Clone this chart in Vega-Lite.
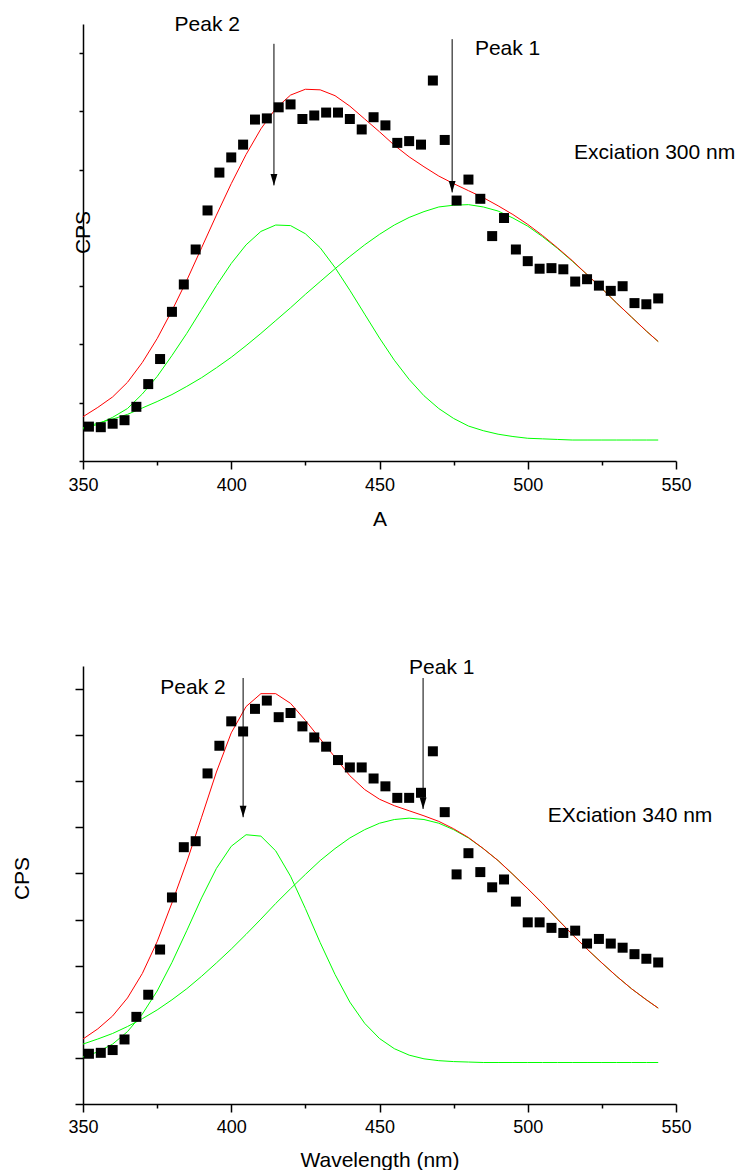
{
  "$schema": "https://vega.github.io/schema/vega-lite/v6.json",
  "background": "white",
  "padding": {"left": 11, "top": 13, "right": 0, "bottom": 0},
  "bounds": "flush",
  "spacing": 205,
  "config": {
    "view": {"stroke": null},
    "font": "Liberation Sans",
    "axis": {
      "grid": false,
      "domainColor": "black",
      "domainWidth": 1.5,
      "tickColor": "black",
      "tickWidth": 1.5,
      "labelFont": "Liberation Sans",
      "labelFontSize": 18,
      "labelColor": "black",
      "titleFont": "Liberation Sans",
      "titleFontSize": 21,
      "titleFontWeight": "normal",
      "titleColor": "black"
    }
  },
  "datasets": {
    "pts1": [
      {"nm": 352, "v": 0.09}, {"nm": 356, "v": 0.08}, {"nm": 360, "v": 0.14}, {"nm": 364, "v": 0.20},
      {"nm": 368, "v": 0.43}, {"nm": 372, "v": 0.82}, {"nm": 376, "v": 1.25}, {"nm": 380, "v": 2.06},
      {"nm": 384, "v": 2.53}, {"nm": 388, "v": 3.13}, {"nm": 392, "v": 3.80}, {"nm": 396, "v": 4.45},
      {"nm": 400, "v": 4.71}, {"nm": 404, "v": 4.93}, {"nm": 408, "v": 5.36}, {"nm": 412, "v": 5.38},
      {"nm": 416, "v": 5.57}, {"nm": 420, "v": 5.62}, {"nm": 424, "v": 5.37}, {"nm": 428, "v": 5.43},
      {"nm": 432, "v": 5.48}, {"nm": 436, "v": 5.48}, {"nm": 440, "v": 5.37}, {"nm": 444, "v": 5.19},
      {"nm": 448, "v": 5.40}, {"nm": 452, "v": 5.26}, {"nm": 456, "v": 4.96}, {"nm": 460, "v": 4.99},
      {"nm": 464, "v": 4.93}, {"nm": 468, "v": 6.03}, {"nm": 472, "v": 5.01}, {"nm": 476, "v": 3.97},
      {"nm": 480, "v": 4.33}, {"nm": 484, "v": 4.00}, {"nm": 488, "v": 3.36}, {"nm": 492, "v": 3.67},
      {"nm": 496, "v": 3.13}, {"nm": 500, "v": 2.93}, {"nm": 504, "v": 2.80}, {"nm": 508, "v": 2.81},
      {"nm": 512, "v": 2.79}, {"nm": 516, "v": 2.58}, {"nm": 520, "v": 2.62}, {"nm": 524, "v": 2.51},
      {"nm": 528, "v": 2.42}, {"nm": 532, "v": 2.50}, {"nm": 536, "v": 2.21}, {"nm": 540, "v": 2.19},
      {"nm": 544, "v": 2.29}
    ],
    "fit1": [
      {"nm": 350, "p2": 0.05, "p1": 0.07, "fit": 0.26},
      {"nm": 355, "p2": 0.13, "p1": 0.15, "fit": 0.42},
      {"nm": 360, "p2": 0.25, "p1": 0.22, "fit": 0.60},
      {"nm": 365, "p2": 0.40, "p1": 0.30, "fit": 0.85},
      {"nm": 370, "p2": 0.65, "p1": 0.41, "fit": 1.19},
      {"nm": 375, "p2": 0.95, "p1": 0.52, "fit": 1.60},
      {"nm": 380, "p2": 1.31, "p1": 0.64, "fit": 2.08},
      {"nm": 385, "p2": 1.69, "p1": 0.78, "fit": 2.60},
      {"nm": 390, "p2": 2.10, "p1": 0.93, "fit": 3.16},
      {"nm": 395, "p2": 2.51, "p1": 1.10, "fit": 3.72},
      {"nm": 400, "p2": 2.89, "p1": 1.28, "fit": 4.26},
      {"nm": 405, "p2": 3.21, "p1": 1.48, "fit": 4.76},
      {"nm": 410, "p2": 3.44, "p1": 1.69, "fit": 5.20},
      {"nm": 415, "p2": 3.55, "p1": 1.91, "fit": 5.55},
      {"nm": 420, "p2": 3.54, "p1": 2.13, "fit": 5.78},
      {"nm": 425, "p2": 3.40, "p1": 2.36, "fit": 5.88},
      {"nm": 430, "p2": 3.16, "p1": 2.58, "fit": 5.87},
      {"nm": 435, "p2": 2.82, "p1": 2.80, "fit": 5.77},
      {"nm": 440, "p2": 2.43, "p1": 3.01, "fit": 5.59},
      {"nm": 445, "p2": 2.02, "p1": 3.21, "fit": 5.37},
      {"nm": 450, "p2": 1.61, "p1": 3.39, "fit": 5.15},
      {"nm": 455, "p2": 1.23, "p1": 3.55, "fit": 4.92},
      {"nm": 460, "p2": 0.90, "p1": 3.68, "fit": 4.72},
      {"nm": 465, "p2": 0.62, "p1": 3.78, "fit": 4.55},
      {"nm": 470, "p2": 0.40, "p1": 3.86, "fit": 4.39},
      {"nm": 475, "p2": 0.23, "p1": 3.89, "fit": 4.26},
      {"nm": 480, "p2": 0.10, "p1": 3.90, "fit": 4.14},
      {"nm": 485, "p2": 0.02, "p1": 3.86, "fit": 4.02},
      {"nm": 490, "p2": -0.04, "p1": 3.79, "fit": 3.88},
      {"nm": 495, "p2": -0.08, "p1": 3.67, "fit": 3.73},
      {"nm": 500, "p2": -0.11, "p1": 3.53, "fit": 3.56},
      {"nm": 505, "p2": -0.12, "p1": 3.35, "fit": 3.37},
      {"nm": 510, "p2": -0.13, "p1": 3.15, "fit": 3.16},
      {"nm": 515, "p2": -0.14, "p1": 2.93, "fit": 2.94},
      {"nm": 520, "p2": -0.14, "p1": 2.70, "fit": 2.70},
      {"nm": 525, "p2": -0.14, "p1": 2.46, "fit": 2.46},
      {"nm": 530, "p2": -0.14, "p1": 2.21, "fit": 2.21},
      {"nm": 535, "p2": -0.14, "p1": 1.97, "fit": 1.97},
      {"nm": 540, "p2": -0.14, "p1": 1.73, "fit": 1.73},
      {"nm": 544, "p2": -0.14, "p1": 1.55, "fit": 1.55}
    ],
    "arr1": [
      {"nm": 414.4, "top": 6.66, "tip": 4.23},
      {"nm": 474.5, "top": 6.74, "tip": 4.11}
    ],
    "txt1": [
      {"nm": 391.9, "v": 6.88, "label": "Peak 2"},
      {"nm": 493.2, "v": 6.46, "label": "Peak 1"},
      {"nm": 542.8, "v": 4.69, "label": "Exciation 300 nm"}
    ],
    "pts2": [
      {"nm": 352, "v": 1.09}, {"nm": 356, "v": 1.11}, {"nm": 360, "v": 1.17}, {"nm": 364, "v": 1.40},
      {"nm": 368, "v": 1.89}, {"nm": 372, "v": 2.37}, {"nm": 376, "v": 3.35}, {"nm": 380, "v": 4.48},
      {"nm": 384, "v": 5.57}, {"nm": 388, "v": 5.70}, {"nm": 392, "v": 7.17}, {"nm": 396, "v": 7.77},
      {"nm": 400, "v": 8.30}, {"nm": 404, "v": 8.08}, {"nm": 408, "v": 8.57}, {"nm": 412, "v": 8.75},
      {"nm": 416, "v": 8.39}, {"nm": 420, "v": 8.48}, {"nm": 424, "v": 8.19}, {"nm": 428, "v": 7.95},
      {"nm": 432, "v": 7.75}, {"nm": 436, "v": 7.46}, {"nm": 440, "v": 7.30}, {"nm": 444, "v": 7.30},
      {"nm": 448, "v": 7.06}, {"nm": 452, "v": 6.89}, {"nm": 456, "v": 6.64}, {"nm": 460, "v": 6.64},
      {"nm": 464, "v": 6.75}, {"nm": 468, "v": 7.65}, {"nm": 472, "v": 6.33}, {"nm": 476, "v": 4.98},
      {"nm": 480, "v": 5.44}, {"nm": 484, "v": 5.03}, {"nm": 488, "v": 4.70}, {"nm": 492, "v": 4.87},
      {"nm": 496, "v": 4.39}, {"nm": 500, "v": 3.94}, {"nm": 504, "v": 3.94}, {"nm": 508, "v": 3.82},
      {"nm": 512, "v": 3.71}, {"nm": 516, "v": 3.76}, {"nm": 520, "v": 3.48}, {"nm": 524, "v": 3.58},
      {"nm": 528, "v": 3.48}, {"nm": 532, "v": 3.39}, {"nm": 536, "v": 3.25}, {"nm": 540, "v": 3.15},
      {"nm": 544, "v": 3.07}
    ],
    "fit2": [
      {"nm": 350, "p2": 1.02, "p1": 1.30, "fit": 1.41},
      {"nm": 355, "p2": 1.13, "p1": 1.41, "fit": 1.63},
      {"nm": 360, "p2": 1.30, "p1": 1.53, "fit": 1.91},
      {"nm": 365, "p2": 1.57, "p1": 1.68, "fit": 2.30},
      {"nm": 370, "p2": 1.95, "p1": 1.85, "fit": 2.83},
      {"nm": 375, "p2": 2.45, "p1": 2.04, "fit": 3.52},
      {"nm": 380, "p2": 3.07, "p1": 2.26, "fit": 4.36},
      {"nm": 385, "p2": 3.76, "p1": 2.50, "fit": 5.25},
      {"nm": 390, "p2": 4.47, "p1": 2.77, "fit": 6.22},
      {"nm": 395, "p2": 5.11, "p1": 3.06, "fit": 7.20},
      {"nm": 400, "p2": 5.59, "p1": 3.36, "fit": 8.05},
      {"nm": 405, "p2": 5.84, "p1": 3.68, "fit": 8.62},
      {"nm": 410, "p2": 5.81, "p1": 4.01, "fit": 8.90},
      {"nm": 415, "p2": 5.49, "p1": 4.35, "fit": 8.90},
      {"nm": 420, "p2": 4.94, "p1": 4.67, "fit": 8.69},
      {"nm": 425, "p2": 4.24, "p1": 4.98, "fit": 8.32},
      {"nm": 430, "p2": 3.50, "p1": 5.28, "fit": 7.92},
      {"nm": 435, "p2": 2.81, "p1": 5.54, "fit": 7.52},
      {"nm": 440, "p2": 2.21, "p1": 5.77, "fit": 7.12},
      {"nm": 445, "p2": 1.75, "p1": 5.95, "fit": 6.82},
      {"nm": 450, "p2": 1.42, "p1": 6.09, "fit": 6.61},
      {"nm": 455, "p2": 1.20, "p1": 6.17, "fit": 6.47},
      {"nm": 460, "p2": 1.06, "p1": 6.20, "fit": 6.36},
      {"nm": 465, "p2": 0.98, "p1": 6.17, "fit": 6.25},
      {"nm": 470, "p2": 0.94, "p1": 6.09, "fit": 6.13},
      {"nm": 475, "p2": 0.92, "p1": 5.95, "fit": 5.97},
      {"nm": 480, "p2": 0.91, "p1": 5.77, "fit": 5.78},
      {"nm": 485, "p2": 0.90, "p1": 5.54, "fit": 5.54},
      {"nm": 490, "p2": 0.90, "p1": 5.28, "fit": 5.28},
      {"nm": 495, "p2": 0.90, "p1": 4.98, "fit": 4.98},
      {"nm": 500, "p2": 0.90, "p1": 4.67, "fit": 4.67},
      {"nm": 505, "p2": 0.90, "p1": 4.35, "fit": 4.35},
      {"nm": 510, "p2": 0.90, "p1": 4.01, "fit": 4.01},
      {"nm": 515, "p2": 0.90, "p1": 3.68, "fit": 3.68},
      {"nm": 520, "p2": 0.90, "p1": 3.36, "fit": 3.36},
      {"nm": 525, "p2": 0.90, "p1": 3.06, "fit": 3.06},
      {"nm": 530, "p2": 0.90, "p1": 2.77, "fit": 2.77},
      {"nm": 535, "p2": 0.90, "p1": 2.50, "fit": 2.50},
      {"nm": 540, "p2": 0.90, "p1": 2.26, "fit": 2.26},
      {"nm": 544, "p2": 0.90, "p1": 2.08, "fit": 2.08}
    ],
    "arr2": [
      {"nm": 404.0, "top": 9.24, "tip": 6.22},
      {"nm": 464.7, "top": 9.24, "tip": 6.40}
    ],
    "txt2": [
      {"nm": 387.1, "v": 8.89, "label": "Peak 2"},
      {"nm": 471.0, "v": 9.33, "label": "Peak 1"},
      {"nm": 534.5, "v": 6.11, "label": "EXciation 340 nm"}
    ]
  },
  "vconcat": [
    {
      "width": 593,
      "height": 437,
      "layer": [
        {
          "data": {"name": "fit1"},
          "mark": {"type": "line", "color": "#00ff00", "strokeWidth": 1},
          "encoding": {
            "x": {"field": "nm", "type": "quantitative", "title": "A", "scale": {"domain": [350, 550], "nice": false, "zero": false},
              "axis": {"values": [350, 375, 400, 425, 450, 475, 500, 525, 550],
                "labelExpr": "datum.value % 50 === 0 ? datum.label : ''",
                "tickSize": {"condition": {"test": "datum.value % 50 === 0", "value": 8}, "value": 4},
                "labelPadding": 7, "labelFlush": false, "labelOverlap": false,
                "titleY": 64, "titleBaseline": "alphabetic"}},
            "y": {"field": "p2", "type": "quantitative", "title": "CPS", "scale": {"domain": [-0.5, 7], "nice": false, "zero": false},
              "axis": {"values": [-0.5, 0, 0.5, 1, 1.5, 2, 2.5, 3, 3.5, 4, 4.5, 5, 5.5, 6, 6.5, 7],
                "labels": false,
                "tickSize": {"condition": {"test": "datum.value % 1 === 0", "value": 8}, "value": 4},
                "titleX": 6, "titleY": 208, "titleBaseline": "alphabetic", "titleAlign": "center"}}
          }
        },
        {
          "data": {"name": "fit1"},
          "mark": {"type": "line", "color": "#00ff00", "strokeWidth": 1},
          "encoding": {
            "x": {"field": "nm", "type": "quantitative", "title": "A", "scale": {"domain": [350, 550], "nice": false, "zero": false}},
            "y": {"field": "p1", "type": "quantitative", "title": "CPS", "scale": {"domain": [-0.5, 7], "nice": false, "zero": false}}
          }
        },
        {
          "data": {"name": "fit1"},
          "mark": {"type": "line", "color": "#ff0000", "strokeWidth": 1},
          "encoding": {
            "x": {"field": "nm", "type": "quantitative", "title": "A", "scale": {"domain": [350, 550], "nice": false, "zero": false}},
            "y": {"field": "fit", "type": "quantitative", "title": "CPS", "scale": {"domain": [-0.5, 7], "nice": false, "zero": false}}
          }
        },
        {
          "data": {"name": "pts1"},
          "mark": {"type": "point", "shape": "square", "filled": true, "color": "black", "size": 100, "opacity": 1, "strokeWidth": 0},
          "encoding": {
            "x": {"field": "nm", "type": "quantitative", "title": "A", "scale": {"domain": [350, 550], "nice": false, "zero": false}},
            "y": {"field": "v", "type": "quantitative", "title": "CPS", "scale": {"domain": [-0.5, 7], "nice": false, "zero": false}}
          }
        },
        {
          "data": {"name": "arr1"},
          "mark": {"type": "rule", "color": "black", "strokeWidth": 1},
          "encoding": {
            "x": {"field": "nm", "type": "quantitative", "title": "A", "scale": {"domain": [350, 550], "nice": false, "zero": false}},
            "y": {"field": "top", "type": "quantitative", "title": "CPS", "scale": {"domain": [-0.5, 7], "nice": false, "zero": false}},
            "y2": {"field": "tip"}
          }
        },
        {
          "data": {"name": "arr1"},
          "mark": {"type": "point", "shape": "M-0.6,-2L0.6,-2L0,0Z", "filled": true, "color": "black", "size": 130, "opacity": 1, "strokeWidth": 0},
          "encoding": {
            "x": {"field": "nm", "type": "quantitative", "title": "A", "scale": {"domain": [350, 550], "nice": false, "zero": false}},
            "y": {"field": "tip", "type": "quantitative", "title": "CPS", "scale": {"domain": [-0.5, 7], "nice": false, "zero": false}}
          }
        },
        {
          "data": {"name": "txt1"},
          "mark": {"type": "text", "font": "Liberation Sans", "fontSize": 21, "align": "center", "baseline": "alphabetic", "color": "black"},
          "encoding": {
            "x": {"field": "nm", "type": "quantitative", "title": "A", "scale": {"domain": [350, 550], "nice": false, "zero": false}},
            "y": {"field": "v", "type": "quantitative", "title": "CPS", "scale": {"domain": [-0.5, 7], "nice": false, "zero": false}},
            "text": {"field": "label"}
          }
        }
      ]
    },
    {
      "width": 593,
      "height": 438,
      "layer": [
        {
          "data": {"name": "fit2"},
          "mark": {"type": "line", "color": "#00ff00", "strokeWidth": 1},
          "encoding": {
            "x": {"field": "nm", "type": "quantitative", "title": "Wavelength (nm)", "scale": {"domain": [350, 550], "nice": false, "zero": false},
              "axis": {"values": [350, 375, 400, 425, 450, 475, 500, 525, 550],
                "labelExpr": "datum.value % 50 === 0 ? datum.label : ''",
                "tickSize": {"condition": {"test": "datum.value % 50 === 0", "value": 8}, "value": 4},
                "labelPadding": 6, "labelFlush": false, "labelOverlap": false,
                "titleY": 62, "titleBaseline": "alphabetic"}},
            "y": {"field": "p2", "type": "quantitative", "title": "CPS", "scale": {"domain": [0, 9.5], "nice": false, "zero": false},
              "axis": {"values": [0, 0.5, 1, 1.5, 2, 2.5, 3, 3.5, 4, 4.5, 5, 5.5, 6, 6.5, 7, 7.5, 8, 8.5, 9, 9.5],
                "labels": false,
                "tickSize": {"condition": {"test": "datum.value % 1 === 0", "value": 8}, "value": 4},
                "titleX": -55, "titleY": 212, "titleBaseline": "alphabetic", "titleAlign": "center"}}
          }
        },
        {
          "data": {"name": "fit2"},
          "mark": {"type": "line", "color": "#00ff00", "strokeWidth": 1},
          "encoding": {
            "x": {"field": "nm", "type": "quantitative", "title": "Wavelength (nm)", "scale": {"domain": [350, 550], "nice": false, "zero": false}},
            "y": {"field": "p1", "type": "quantitative", "title": "CPS", "scale": {"domain": [0, 9.5], "nice": false, "zero": false}}
          }
        },
        {
          "data": {"name": "fit2"},
          "mark": {"type": "line", "color": "#ff0000", "strokeWidth": 1},
          "encoding": {
            "x": {"field": "nm", "type": "quantitative", "title": "Wavelength (nm)", "scale": {"domain": [350, 550], "nice": false, "zero": false}},
            "y": {"field": "fit", "type": "quantitative", "title": "CPS", "scale": {"domain": [0, 9.5], "nice": false, "zero": false}}
          }
        },
        {
          "data": {"name": "pts2"},
          "mark": {"type": "point", "shape": "square", "filled": true, "color": "black", "size": 100, "opacity": 1, "strokeWidth": 0},
          "encoding": {
            "x": {"field": "nm", "type": "quantitative", "title": "Wavelength (nm)", "scale": {"domain": [350, 550], "nice": false, "zero": false}},
            "y": {"field": "v", "type": "quantitative", "title": "CPS", "scale": {"domain": [0, 9.5], "nice": false, "zero": false}}
          }
        },
        {
          "data": {"name": "arr2"},
          "mark": {"type": "rule", "color": "black", "strokeWidth": 1},
          "encoding": {
            "x": {"field": "nm", "type": "quantitative", "title": "Wavelength (nm)", "scale": {"domain": [350, 550], "nice": false, "zero": false}},
            "y": {"field": "top", "type": "quantitative", "title": "CPS", "scale": {"domain": [0, 9.5], "nice": false, "zero": false}},
            "y2": {"field": "tip"}
          }
        },
        {
          "data": {"name": "arr2"},
          "mark": {"type": "point", "shape": "M-0.6,-2L0.6,-2L0,0Z", "filled": true, "color": "black", "size": 130, "opacity": 1, "strokeWidth": 0},
          "encoding": {
            "x": {"field": "nm", "type": "quantitative", "title": "Wavelength (nm)", "scale": {"domain": [350, 550], "nice": false, "zero": false}},
            "y": {"field": "tip", "type": "quantitative", "title": "CPS", "scale": {"domain": [0, 9.5], "nice": false, "zero": false}}
          }
        },
        {
          "data": {"name": "txt2"},
          "mark": {"type": "text", "font": "Liberation Sans", "fontSize": 21, "align": "center", "baseline": "alphabetic", "color": "black"},
          "encoding": {
            "x": {"field": "nm", "type": "quantitative", "title": "Wavelength (nm)", "scale": {"domain": [350, 550], "nice": false, "zero": false}},
            "y": {"field": "v", "type": "quantitative", "title": "CPS", "scale": {"domain": [0, 9.5], "nice": false, "zero": false}},
            "text": {"field": "label"}
          }
        }
      ]
    }
  ]
}
